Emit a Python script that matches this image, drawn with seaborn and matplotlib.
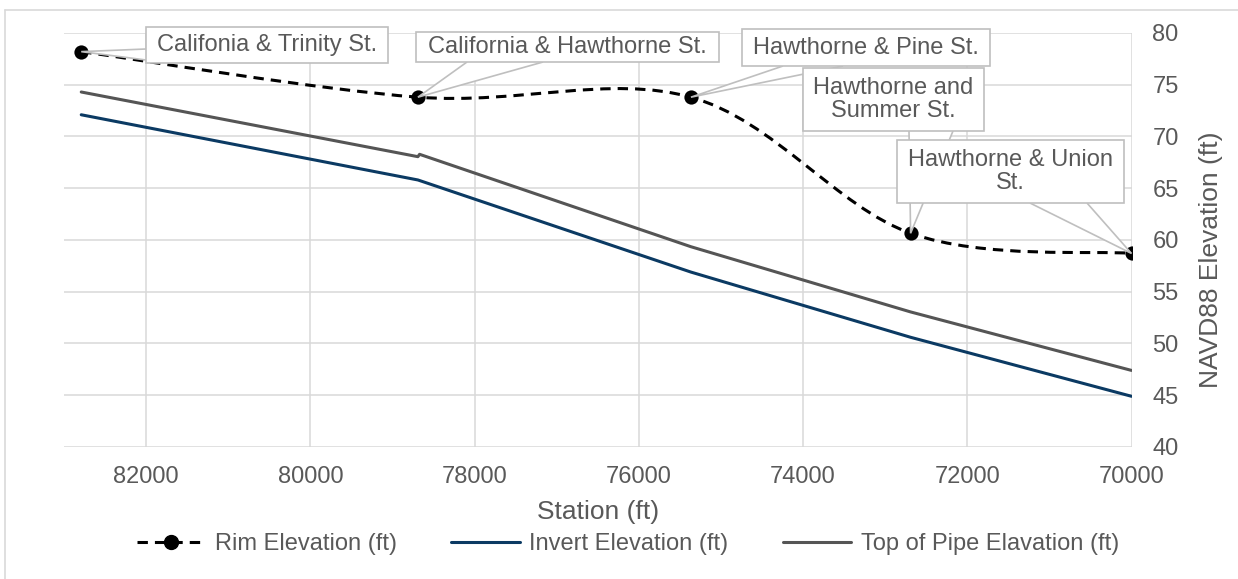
import numpy as np
import pandas as pd
import matplotlib
matplotlib.use("Agg")
import matplotlib.pyplot as plt
import seaborn as sns
from matplotlib.path import Path
from matplotlib.patches import PathPatch, Polygon, Rectangle
from matplotlib.lines import Line2D
from matplotlib.transforms import IdentityTransform

# ---------------- data ----------------
rim_station = [82790, 78690, 75365, 72690, 70000]
rim_elev = [78.2, 73.8, 73.8, 60.65, 58.7]
rim_labels = ["Califonia & Trinity St.", "California & Hawthorne St.",
              "Hawthorne & Pine St.", "Hawthorne and\nSummer St.",
              "Hawthorne & Union\nSt."]

invert_station = [82790, 78690, 75365, 72690, 70000]
invert_elev = [72.1, 65.8, 56.9, 50.6, 44.9]

top_station = [82790, 78690, 78670, 75365, 72690, 70000]
top_elev = [74.3, 68.05, 68.28, 59.35, 53.05, 47.4]

x_ticks = [82000, 80000, 78000, 76000, 74000, 72000, 70000]
y_ticks = [40, 45, 50, 55, 60, 65, 70, 75, 80]

series_names = ["Rim Elevation (ft)", "Invert Elevation (ft)", "Top of Pipe Elavation (ft)"]
x_title = "Station (ft)"
y_title = "NAVD88 Elevation (ft)"

# ---------------- style ----------------
TXT = "#595959"
GRID = "#d9d9d9"
BOX_EC = "#bfbfbf"
C_INV = "#0b3a63"
C_TOP = "#555555"
FS = 17

sns.set_theme(style="white")
plt.rcParams["font.family"] = ["Liberation Sans", "DejaVu Sans"]

W, H = 1238, 579
fig = plt.figure(figsize=(W / 100, H / 100), dpi=100)
ax = fig.add_axes([64 / W, 1 - 447 / H, (1131.5 - 64) / W, (447 - 33) / H])

inv_df = pd.DataFrame({"station": invert_station, "elev": invert_elev})
top_df = pd.DataFrame({"station": top_station, "elev": top_elev})
rim_df = pd.DataFrame({"station": rim_station, "elev": rim_elev})

sns.lineplot(data=inv_df, x="station", y="elev", ax=ax, color=C_INV, lw=2.2,
             sort=False, estimator=None, legend=False, zorder=3)
sns.lineplot(data=top_df, x="station", y="elev", ax=ax, color=C_TOP, lw=2.2,
             sort=False, estimator=None, legend=False, zorder=3)

# smoothed rim line (Catmull-Rom as cubic Bezier segments, drawn by matplotlib)
P = rim_df[["station", "elev"]].to_numpy(dtype=float)
n = len(P)
verts = [P[0]]
codes = [Path.MOVETO]
for i in range(n - 1):
    p0 = P[i - 1] if i > 0 else P[i]
    p1 = P[i]
    p2 = P[i + 1]
    p3 = P[i + 2] if i + 2 < n else P[i + 1]
    verts += [p1 + (p2 - p0) / 6.0, p2 - (p3 - p1) / 6.0, p2]
    codes += [Path.CURVE4] * 3
DASH = (3.4, 2.3)
ax.add_patch(PathPatch(Path(verts, codes), fill=False, edgecolor="black",
                       lw=2.2, linestyle=(0, DASH), zorder=4))
sns.scatterplot(data=rim_df, x="station", y="elev", ax=ax, color="black",
                s=105, edgecolor="black", linewidth=0, legend=False, zorder=5)

# axes
ax.set_xlim(83000, 70000)
ax.set_ylim(40, 80)
ax.set_xticks(x_ticks)
ax.set_xticklabels([str(v) for v in x_ticks])
ax.set_yticks(y_ticks)
ax.set_yticklabels([str(v) for v in y_ticks])
ax.yaxis.tick_right()
ax.yaxis.set_label_position("right")
ax.tick_params(axis="both", length=0, labelsize=FS, colors=TXT)
ax.tick_params(axis="x", pad=14)
ax.tick_params(axis="y", pad=15)
ax.grid(True, color=GRID, lw=1.1)
ax.set_axisbelow(True)
for s in ax.spines.values():
    s.set_visible(False)

ax.set_xlabel(x_title, fontsize=19, color=TXT, labelpad=8)
ax.set_ylabel(y_title, fontsize=19, color=TXT)
ax.yaxis.set_label_coords(1.063, 0.452)

# callouts: box (left, top, right, bottom) in pixels from top-left, wedge base on box edge
boxes = [(146, 27, 388, 63), (416, 32, 719, 62), (742, 29, 990, 66),
         (803, 68, 984, 131), (897, 140, 1124, 203)]
bases = [((146, 49), (146, 60)), ((467, 62), (543, 62)), ((783, 66), (843, 66)),
         ((909, 131), (953, 131)), ((1030, 203), (1087, 203))]

fig.canvas.draw()
ident = IdentityTransform()
for k, (lab, sx, sy, bx, bs) in enumerate(zip(rim_labels, rim_station, rim_elev, boxes, bases)):
    tip = ax.transData.transform((sx, sy))
    (ax0, ay0), (ax1, ay1) = bs
    wedge = Polygon([(ax0, H - ay0), (tip[0], tip[1]), (ax1, H - ay1)], closed=False,
                    fc="white", ec=BOX_EC, lw=1.2, transform=ident, zorder=6 + 3 * k)
    fig.add_artist(wedge)
    l, t, r, b = bx
    rect = Rectangle((l, H - b), r - l, b - t, fc="white", ec=BOX_EC, lw=1.2,
                     transform=ident, zorder=7 + 3 * k)
    fig.add_artist(rect)
    fig.text((l + r) / 2 / W, 1 - (t + b) / 2 / H, lab, ha="center", va="center",
             fontsize=FS, color=TXT, linespacing=1.05, zorder=8 + 3 * k)

# legend
handles = [
    Line2D([], [], color="black", lw=2.2, dashes=DASH, marker="o", markersize=10),
    Line2D([], [], color=C_INV, lw=2.2),
    Line2D([], [], color=C_TOP, lw=2.2),
]
leg = fig.legend(handles, series_names, loc="center", ncol=3,
                 bbox_to_anchor=(628 / W, 1 - 544 / H), frameon=False,
                 fontsize=FS, handlelength=2.9, handletextpad=0.4,
                 columnspacing=2.3, numpoints=1)
for t in leg.get_texts():
    t.set_color(TXT)

# chart area border (left and top)
fig.add_artist(Line2D([5 / W, 5 / W], [0, 1 - 10 / H], color=GRID, lw=1.2,
                      transform=fig.transFigure))
fig.add_artist(Line2D([5 / W, 1], [1 - 10 / H, 1 - 10 / H], color=GRID, lw=1.2,
                      transform=fig.transFigure))

fig.savefig("out.png", dpi=100)
